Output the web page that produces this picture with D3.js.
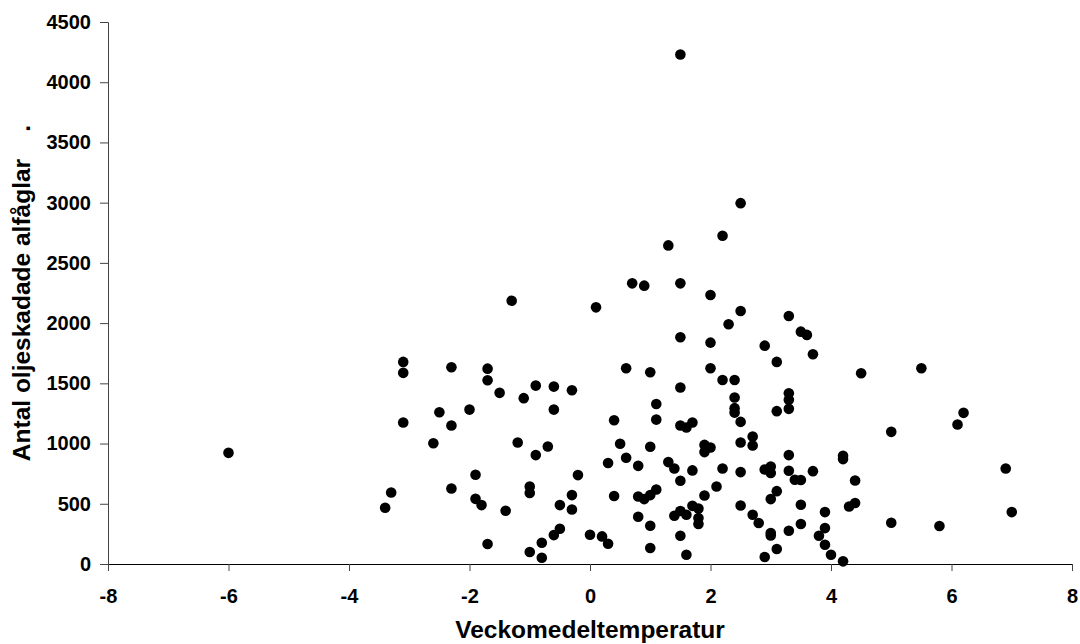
<!DOCTYPE html>
<html>
  <head>
    <meta charset="utf-8">
    <script src="https://d3js.org/d3.v7.min.js"></script>
    <title>Alfåglar och temperatur</title>
    <style>
      body {
        margin: 0;
        background: #fff;
      }
      .tick text {
        fill: #000;
        font-size: 20px;
        font-weight: bold;
        font-family: "Liberation Sans", Arial, sans-serif;
      }
      .axis-label {
        fill: #000;
        font-size: 24.5px;
        font-weight: bold;
        font-family: "Liberation Sans", Arial, sans-serif;
        white-space: pre;
      }
    </style>
  </head>
  <body>
    <svg width="1080" height="644"></svg>
    <script>
      // weekly mean temperature and number of oil-damaged long-tailed ducks
      const temps = [
        -6.0, -3.4, -3.3, -3.1, -3.1, -3.1, -2.6, -2.5, -2.3, -2.3, -2.3, -2.0,
        -1.9, -1.9, -1.8, -1.7, -1.7, -1.7, -1.5, -1.4, -1.3, -1.2, -1.1, -1.0,
        -1.0, -1.0, -0.9, -0.9, -0.8, -0.8, -0.7, -0.6, -0.6, -0.6, -0.5, -0.5,
        -0.3, -0.3, -0.3, -0.2, 0.0, 0.1, 0.2, 0.3, 0.3, 0.4, 0.4, 0.5,
        0.6, 0.6, 0.7, 0.8, 0.8, 0.8, 0.9, 0.9, 1.0, 1.0, 1.0, 1.0,
        1.0, 1.1, 1.1, 1.1, 1.3, 1.3, 1.4, 1.4, 1.5, 1.5, 1.5, 1.5,
        1.5, 1.5, 1.5, 1.5, 1.6, 1.6, 1.6, 1.7, 1.7, 1.7, 1.8, 1.8,
        1.8, 1.9, 1.9, 1.9, 2.0, 2.0, 2.0, 2.0, 2.1, 2.2, 2.2, 2.2,
        2.3, 2.4, 2.4, 2.4, 2.4, 2.5, 2.5, 2.5, 2.5, 2.5, 2.5, 2.7,
        2.7, 2.7, 2.8, 2.9, 2.9, 2.9, 3.0, 3.0, 3.0, 3.0, 3.0, 3.1,
        3.1, 3.1, 3.1, 3.3, 3.3, 3.3, 3.3, 3.3, 3.3, 3.3, 3.4, 3.5,
        3.5, 3.5, 3.5, 3.6, 3.7, 3.7, 3.8, 3.9, 3.9, 3.9, 4.0, 4.2,
        4.2, 4.2, 4.3, 4.4, 4.4, 4.5, 5.0, 5.0, 5.5, 5.8, 6.1, 6.2,
        6.9, 7.0
      ];
      const birds = [
        923, 467, 594, 1678, 1587, 1175, 1003, 1260, 1634, 1150, 627, 1282,
        741, 541, 489, 1622, 1526, 166, 1421, 442, 2186, 1009, 1377, 644,
        589, 100, 1481, 904, 177, 52, 975, 1473, 1282, 240, 489, 293,
        1443, 572, 453, 738, 243, 2131, 229, 838, 168, 1194, 564, 998,
        1625, 882, 2330, 815, 561, 392, 2311, 539, 1592, 973, 572, 318,
        133, 1329, 1199, 619, 2645, 846, 793, 401, 4230, 2330, 1883, 1465,
        1150, 691, 440, 235, 1133, 409, 77, 1175, 777, 483, 461, 381,
        332, 989, 929, 569, 2233, 1838, 1625, 967, 644, 2725, 1528, 793,
        1990, 1528, 1382, 1294, 1257, 2996, 2101, 1180, 1009, 763, 486, 1058,
        984, 409, 340, 1813, 785, 58, 810, 755, 539, 257, 237, 1678,
        1269, 605, 124, 2059, 1418, 1363, 1288, 904, 774, 276, 699, 1929,
        697, 492, 332, 1902, 1741, 771, 235, 431, 298, 160, 77, 898,
        871, 22, 478, 693, 506, 1584, 1097, 343, 1625, 315, 1158, 1255,
        793, 431
      ];
      const xTicks = [-8, -6, -4, -2, 0, 2, 4, 6, 8];
      const yTicks = [0, 500, 1000, 1500, 2000, 2500, 3000, 3500, 4000, 4500];
      const xLabel = 'Veckomedeltemperatur';
      const yLabel = 'Antal oljeskadade alfåglar    .';

      const margin = { left: 108, right: 8, top: 22, bottom: 80 };
      const svg = d3.select('svg');
      const width = +svg.attr('width');
      const height = +svg.attr('height');
      const innerWidth = width - margin.left - margin.right;
      const innerHeight = height - margin.top - margin.bottom;

      const g = svg.append('g')
          .attr('transform', `translate(${margin.left},${margin.top})`);

      const xScale = d3.scaleLinear().domain([-8, 8]).range([0, innerWidth]);
      const yScale = d3.scaleLinear().domain([0, 4500]).range([innerHeight, 0]);

      // plain hyphen minus and no thousands separator, like the original
      const yAxisG = g.append('g')
          .call(d3.axisLeft(yScale).tickValues(yTicks).tickFormat(d => String(d))
            .tickSize(8).tickPadding(9));
      const xAxisG = g.append('g')
          .attr('transform', `translate(0,${innerHeight})`)
          .call(d3.axisBottom(xScale).tickValues(xTicks).tickFormat(d => String(d))
            .tickSize(7).tickPadding(18));

      yAxisG.selectAll('.domain, .tick line').attr('stroke', '#444');
      xAxisG.select('.domain').attr('stroke', '#000');
      xAxisG.selectAll('.tick line').attr('stroke', '#444');

      // dots
      const data = temps.map((t, i) => ({ t: t, n: birds[i] }));
      g.selectAll('circle').data(data)
        .enter().append('circle')
          .attr('cx', d => xScale(d.t))
          .attr('cy', d => yScale(d.n))
          .attr('r', 5.3)
          .attr('fill', '#000');

      // labels
      svg.append('text')
          .attr('class', 'axis-label')
          .attr('x', margin.left + innerWidth / 2)
          .attr('y', 638)
          .attr('text-anchor', 'middle')
          .text(xLabel);

      svg.append('text')
          .attr('class', 'axis-label')
          .attr('transform', `translate(30,${margin.top + innerHeight / 2}) rotate(-90)`)
          .attr('text-anchor', 'middle')
          .text(yLabel);
    </script>
  </body>
</html>
